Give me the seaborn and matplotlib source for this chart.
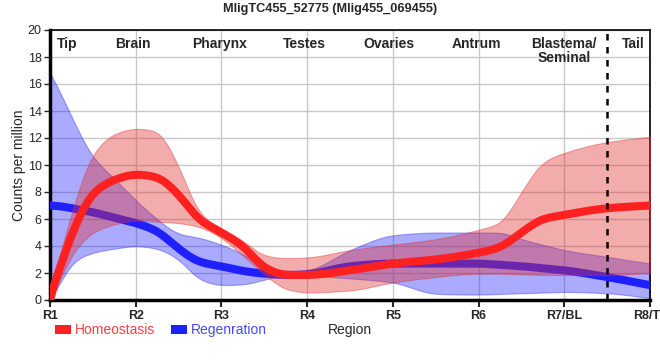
import numpy as np
import pandas as pd
import matplotlib
matplotlib.use("Agg")
import matplotlib.pyplot as plt
from matplotlib.patches import Patch
import seaborn as sns

# ---------------- data ----------------
positions = [0, 0.125, 0.25, 0.5, 0.75, 1, 1.25, 1.5, 1.75, 2, 2.25, 2.5, 2.75, 3,
             3.5, 4, 4.5, 5, 5.25, 5.5, 5.75, 6, 6.5, 7]
homeo_mean = [0, 2.6, 4.8, 7.9, 8.9, 9.3, 9.1, 7.8, 5.9, 5.0, 4.0, 2.4, 1.85, 1.85,
              2.2, 2.7, 3.0, 3.5, 3.9, 5.0, 6.0, 6.3, 6.8, 7.0]
homeo_upper = [0, 3.6, 6.4, 10.8, 12.3, 12.7, 12.5, 9.9, 6.4, 5.3, 4.4, 3.3, 3.1, 3.15,
               3.7, 4.1, 4.5, 5.2, 5.7, 8.0, 10.2, 10.9, 11.7, 12.1]
homeo_lower = [0, 1.6, 3.3, 5.0, 5.6, 5.9, 5.8, 5.7, 5.4, 4.6, 3.3, 1.9, 0.8, 0.55,
               0.7, 1.3, 1.7, 1.95, 1.95, 1.9, 1.85, 1.85, 1.85, 2.0]
regen_mean = [7.0, 6.95, 6.8, 6.5, 6.1, 5.7, 5.1, 3.8, 2.8, 2.5, 2.15, 1.95, 1.85, 1.9,
              2.5, 2.7, 2.7, 2.7, 2.6, 2.5, 2.35, 2.2, 1.7, 1.1]
regen_upper = [16.9, 15.3, 13.6, 10.6, 9.0, 7.4, 6.0, 4.9, 4.6, 4.1, 3.4, 2.5, 2.1, 2.2,
               3.7, 4.8, 5.0, 5.0, 5.0, 4.5, 4.1, 3.7, 3.2, 2.7]
regen_lower = [0, 1.3, 2.7, 3.5, 3.8, 4.0, 3.8, 3.0, 1.5, 1.1, 1.15, 1.5, 1.85, 1.8,
               1.6, 1.3, 0.45, 0.4, 0.45, 0.5, 0.55, 0.6, 0.5, 0.15]

region_ticks = ["R1", "R2", "R3", "R4", "R5", "R6", "R7/BL", "R8/TL"]
tissue_labels = ["Tip", "Brain", "Pharynx", "Testes", "Ovaries", "Antrum",
                 "Blastema/\nSeminal", "Tail"]
tissue_pos = [0.2, 0.97, 1.98, 2.97, 3.95, 4.97, 6.0, 6.8]
blastema_boundary = 6.5
title = "MligTC455_52775 (Mlig455_069455)"

RED = "#ff2020"
BLUE = "#2020ff"


# ------------- smooth rendering (monotone cubic + light smoothing) -------------
def pchip(x, y, xs):
    x = np.asarray(x, float)
    y = np.asarray(y, float)
    h = np.diff(x)
    d = np.diff(y) / h
    n = len(x)
    m = np.zeros(n)
    for k in range(1, n - 1):
        if d[k - 1] * d[k] > 0:
            w1 = 2 * h[k] + h[k - 1]
            w2 = h[k] + 2 * h[k - 1]
            m[k] = (w1 + w2) / (w1 / d[k - 1] + w2 / d[k])
    m[0] = d[0]
    m[-1] = d[-1]
    idx = np.clip(np.searchsorted(x, xs) - 1, 0, n - 2)
    t = (xs - x[idx]) / h[idx]
    h00 = 2 * t**3 - 3 * t**2 + 1
    h10 = t**3 - 2 * t**2 + t
    h01 = -2 * t**3 + 3 * t**2
    h11 = t**3 - t**2
    return (h00 * y[idx] + h10 * h[idx] * m[idx] + h01 * y[idx + 1]
            + h11 * h[idx] * m[idx + 1])


def smooth_curve(x, y, xs, sigma=0.07):
    raw = pchip(x, y, xs)
    dx = xs[1] - xs[0]
    r = int(4 * sigma / dx)
    k = np.exp(-0.5 * (np.arange(-r, r + 1) * dx / sigma) ** 2)
    k /= k.sum()
    padded = np.pad(raw, r, mode="edge")
    out = np.convolve(padded, k, mode="valid")
    # keep the measured end values
    w = np.clip(np.minimum(xs - xs[0], xs[-1] - xs) / (2 * sigma), 0, 1)
    return w * out + (1 - w) * raw


xs = np.linspace(0, 7, 800)
curves = {
    "Homeostasis": [smooth_curve(positions, v, xs) for v in (homeo_mean, homeo_lower, homeo_upper)],
    "Regenration": [smooth_curve(positions, v, xs) for v in (regen_mean, regen_lower, regen_upper)],
}
df = pd.concat([
    pd.DataFrame({"pos": xs, "cpm": curves[k][0], "cond": k}) for k in curves
])

# ---------------- figure ----------------
sns.set_theme(style="white")
plt.rcParams["font.family"] = ["Liberation Sans", "DejaVu Sans"]

fig = plt.figure(figsize=(6.6, 3.6), dpi=100)
ax = fig.add_axes([50 / 660, 60 / 360, 600 / 660, 270 / 360])

# blue band, blue line, red band, red line
ax.fill_between(xs, curves["Regenration"][1], curves["Regenration"][2],
                color=BLUE, alpha=0.38, lw=0.8, zorder=2)
sns.lineplot(data=df[df.cond == "Regenration"], x="pos", y="cpm", color=BLUE,
             lw=5.8, ax=ax, zorder=3, legend=False)
ax.fill_between(xs, curves["Homeostasis"][1], curves["Homeostasis"][2],
                color="#e03030", alpha=0.4, lw=0.8, zorder=4)
sns.lineplot(data=df[df.cond == "Homeostasis"], x="pos", y="cpm", color=RED,
             lw=5.8, ax=ax, zorder=5, legend=False)

ax.axvline(blastema_boundary, color="black", ls=(0, (2.6, 2.6)), lw=1.8, zorder=6)

ax.set_xlim(0, 7)
ax.set_ylim(0, 20)
ax.set_xticks(range(len(region_ticks)))
ax.set_xticklabels(region_ticks, fontsize=9, fontweight="bold")
ax.set_yticks(range(0, 21, 2))
ax.tick_params(axis="y", labelsize=9, length=4, width=1, direction="out",
               left=True, pad=2)
ax.tick_params(axis="x", length=5, width=1.5, direction="out", bottom=True, pad=2)
ax.grid(True, color="#c8c8c8", lw=1)
ax.set_axisbelow(True)

for side in ["left", "bottom"]:
    ax.spines[side].set_linewidth(2.5)
    ax.spines[side].set_color("black")
for side in ["top", "right"]:
    ax.spines[side].set_linewidth(1.2)
    ax.spines[side].set_color("black")
    ax.spines[side].set_visible(True)

for lab, p in zip(tissue_labels, tissue_pos):
    ax.text(p, 19.5, lab, ha="center", va="top", fontsize=10,
            fontweight="bold", linespacing=1.0, zorder=7)

ax.set_xlabel("")
ax.set_ylabel("Counts per million", fontsize=10)
ax.yaxis.set_label_coords(-24 / 600, 0.5)
fig.text(350 / 660, 1 - 330 / 360, "Region", ha="center", va="center", fontsize=10)
fig.text(330 / 660, 1 - 9 / 360, title, ha="center", va="center",
         fontsize=9.2, fontweight="bold")

handles = [Patch(facecolor=RED, edgecolor="none"), Patch(facecolor=BLUE, edgecolor="none")]
fig.legend(handles, ["Homeostasis", "Regenration"], loc="center left",
           bbox_to_anchor=(55 / 660, 1 - 330 / 360), ncol=2, frameon=False,
           fontsize=10, handlelength=1.15, handleheight=0.6, handletextpad=0.25,
           columnspacing=1.2, borderpad=0, borderaxespad=0,
           labelcolor=["#ff4040", "#4848ff"])

fig.savefig("out.png", dpi=100)
